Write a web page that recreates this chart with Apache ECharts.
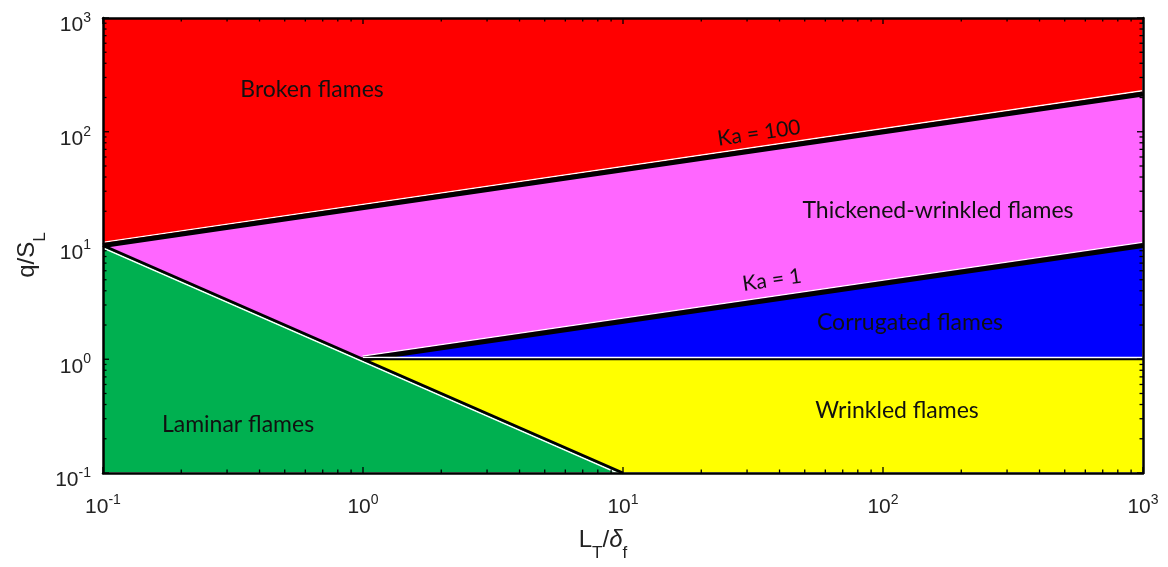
<!DOCTYPE html>
<html><head><meta charset="utf-8">
<script src="https://cdn.jsdelivr.net/npm/echarts@6/dist/echarts.min.js"></script>
<style>html,body{margin:0;padding:0;background:#fff}#c{width:1168px;height:567px}</style>
</head><body><div id="c"></div>
<script>
// ---- axis ranges and tick labels ----
const xRange = [0.1, 1000];
const yRange = [0.1, 1000];
const majorTicks = [0.1, 1, 10, 100, 1000];
const minorMultipliers = [2, 3, 4, 5, 6, 7, 8, 9];
const decadeStarts = [0.1, 1, 10, 100];

// ---- regime boundaries (data coordinates) ----
const ka100Line = [[0.1, 10], [1000, 215]];
const ka1Line = [[1, 1], [1000, 10]];
const re1Line = [[0.1, 10], [10, 0.1]];
const q1Line = [[1, 1], [1000, 1]];

// ---- regime regions (polygons in data coordinates) ----
const brokenRegion = [[0.1, 1000], [1000, 1000], [1000, 215], [0.1, 10]];
const thickenedRegion = [[0.1, 10], [1000, 215], [1000, 10], [1, 1]];
const corrugatedRegion = [[1, 1], [1000, 10], [1000, 1]];
const wrinkledRegion = [[1, 1], [1000, 1], [1000, 0.1], [10, 0.1]];
const laminarRegion = [[0.1, 10], [10, 0.1], [0.1, 0.1]];
const regions = [brokenRegion, thickenedRegion, corrugatedRegion, wrinkledRegion, laminarRegion];
const regionColors = ['#FF0000', '#FF66FF', '#0000FF', '#FFFF00', '#00B050'];

const minorTicks = [];
decadeStarts.forEach(d => minorMultipliers.forEach(m => minorTicks.push(+(d * m).toPrecision(3))));

// boundary drawing: [line, black width, side of white edge (-1 above, +1 below)]
const boundaries = [ka100Line, ka1Line, re1Line, q1Line];
const boundaryWidths = [5, 5, 3, 2];
const boundaryWhiteSide = [-1, -1, 1, -1];

const tickRich = {
  b: { fontFamily: 'Liberation Sans', fontSize: 21, color: '#222', lineHeight: 22, verticalAlign: 'bottom' },
  s: { fontFamily: 'Liberation Sans', fontSize: 14, color: '#222', lineHeight: 36 }
};
function powLabel(v) {
  const e = Math.round(Math.log10(v));
  return '{b|10}{s|' + e + '}';
}

const frameLine = { show: true, lineStyle: { color: '#000', width: 2.5 } };
const nameRich = {
  a: { fontFamily: 'Liberation Sans', fontSize: 24, fill: '#222', lineHeight: 24, verticalAlign: 'top' },
  d: { fontFamily: 'Liberation Sans', fontSize: 24, fontStyle: 'italic', fill: '#222', lineHeight: 24, verticalAlign: 'top' },
  sub: { fontFamily: 'Liberation Sans', fontSize: 17, fill: '#222', lineHeight: 50 }
};
const regionFont = { fontFamily: 'Lato', fontSize: 23, fill: '#111', align: 'center', verticalAlign: 'middle' };
const kaFont = { fontFamily: 'Lato', fontSize: 21, fill: '#111', align: 'center', verticalAlign: 'middle' };

const chart = echarts.init(document.getElementById('c'), null, { renderer: 'canvas' });
chart.setOption({
  animation: false,
  backgroundColor: '#fff',
  grid: { left: 103, right: 25, top: 18, bottom: 94, containLabel: false },
  xAxis: [
    { type: 'log', logBase: 10, min: xRange[0], max: xRange[1], position: 'bottom', z: 10,
      axisLine: frameLine, axisTick: { show: false }, splitLine: { show: false },
      axisLabel: { formatter: powLabel, rich: tickRich, margin: 9, showMinLabel: true, showMaxLabel: true } },
    { type: 'log', logBase: 10, min: xRange[0], max: xRange[1], position: 'top', z: 10,
      axisLine: frameLine, axisTick: { show: false }, splitLine: { show: false }, axisLabel: { show: false } }
  ],
  yAxis: [
    { type: 'log', logBase: 10, min: yRange[0], max: yRange[1], position: 'left', z: 10,
      axisLine: frameLine, axisTick: { show: false }, splitLine: { show: false },
      axisLabel: { formatter: powLabel, rich: tickRich, margin: 12, showMinLabel: true, showMaxLabel: true } },
    { type: 'log', logBase: 10, min: yRange[0], max: yRange[1], position: 'right', z: 10,
      axisLine: frameLine, axisTick: { show: false }, splitLine: { show: false }, axisLabel: { show: false } }
  ],
  series: [
    {
      type: 'custom', name: 'regions', z: 1, silent: true,
      data: regions.map(r => r[0]),
      renderItem: function (params, api) {
        const pts = regions[params.dataIndex].map(p => api.coord(p));
        return { type: 'polygon', shape: { points: pts },
          style: { fill: regionColors[params.dataIndex], stroke: '#fff', lineWidth: 1.5 } };
      }
    },
    {
      type: 'custom', name: 'boundaries', z: 3, silent: true,
      data: boundaries.map(b => b[0]),
      renderItem: function (params, api) {
        const i = params.dataIndex;
        const pts = boundaries[i].map(p => api.coord(p));
        const dx = pts[1][0] - pts[0][0], dy = pts[1][1] - pts[0][1];
        const len = Math.hypot(dx, dy);
        let nx = -dy / len, ny = dx / len;
        if (ny * boundaryWhiteSide[i] < 0) { nx = -nx; ny = -ny; }
        if (Math.abs(ny) < 1e-9) { ny = boundaryWhiteSide[i]; nx = 0; }
        const off = boundaryWidths[i] / 2 + 0.7;
        const wpts = pts.map(p => [p[0] + nx * off, p[1] + ny * off]);
        return { type: 'group', children: [
          { type: 'polyline', shape: { points: wpts }, style: { stroke: '#fff', lineWidth: 1.4, fill: null } },
          { type: 'polyline', shape: { points: pts }, style: { stroke: '#000', lineWidth: boundaryWidths[i], fill: null, lineCap: 'butt' } }
        ] };
      }
    },
    {
      type: 'custom', name: 'ticks', z: 4, silent: true, clip: false,
      data: [[1, 1]],
      renderItem: function (params, api) {
        const children = [];
        const p0 = api.coord([xRange[0], yRange[0]]);
        const p1 = api.coord([xRange[1], yRange[1]]);
        const left = p0[0], bottom = p0[1], right = p1[0], top = p1[1];
        function add(list, len) {
          list.forEach(v => {
            const px = api.coord([v, 1])[0];
            const py = api.coord([1, v])[1];
            const st = { stroke: '#000', lineWidth: 1.3 };
            children.push({ type: 'line', shape: { x1: px, y1: bottom, x2: px, y2: bottom - len }, style: st });
            children.push({ type: 'line', shape: { x1: px, y1: top, x2: px, y2: top + len }, style: st });
            children.push({ type: 'line', shape: { x1: left, y1: py, x2: left + len, y2: py }, style: st });
            children.push({ type: 'line', shape: { x1: right, y1: py, x2: right - len, y2: py }, style: st });
          });
        }
        add(majorTicks, 6);
        add(minorTicks, 3.5);
        return { type: 'group', children: children };
      }
    }
  ],
  graphic: [
    { type: 'text', z: 100, x: 312, y: 90, style: Object.assign({ text: 'Broken flames' }, regionFont) },
    { type: 'text', z: 100, x: 759, y: 133, rotation: 0.145, style: Object.assign({ text: 'Ka = 100' }, kaFont) },
    { type: 'text', z: 100, x: 938, y: 211, style: Object.assign({ text: 'Thickened-wrinkled flames' }, regionFont) },
    { type: 'text', z: 100, x: 772, y: 280, rotation: 0.145, style: Object.assign({ text: 'Ka = 1' }, kaFont) },
    { type: 'text', z: 100, x: 910, y: 323, style: Object.assign({ text: 'Corrugated flames' }, regionFont) },
    { type: 'text', z: 100, x: 897, y: 411, style: Object.assign({ text: 'Wrinkled flames' }, regionFont) },
    { type: 'text', z: 100, x: 238, y: 425, style: Object.assign({ text: 'Laminar flames' }, regionFont) },
    { type: 'text', z: 100, x: 603, y: 553, style: {
        text: '{a|L}{sub|T}{a|/}{d|δ}{sub|f}', align: 'center', verticalAlign: 'middle', rich: nameRich } },
    { type: 'text', z: 100, x: 40, y: 255, rotation: Math.PI / 2, style: {
        text: '{a|q/S}{sub|L}', align: 'center', verticalAlign: 'middle', rich: nameRich } }
  ]
});
</script></body></html>
